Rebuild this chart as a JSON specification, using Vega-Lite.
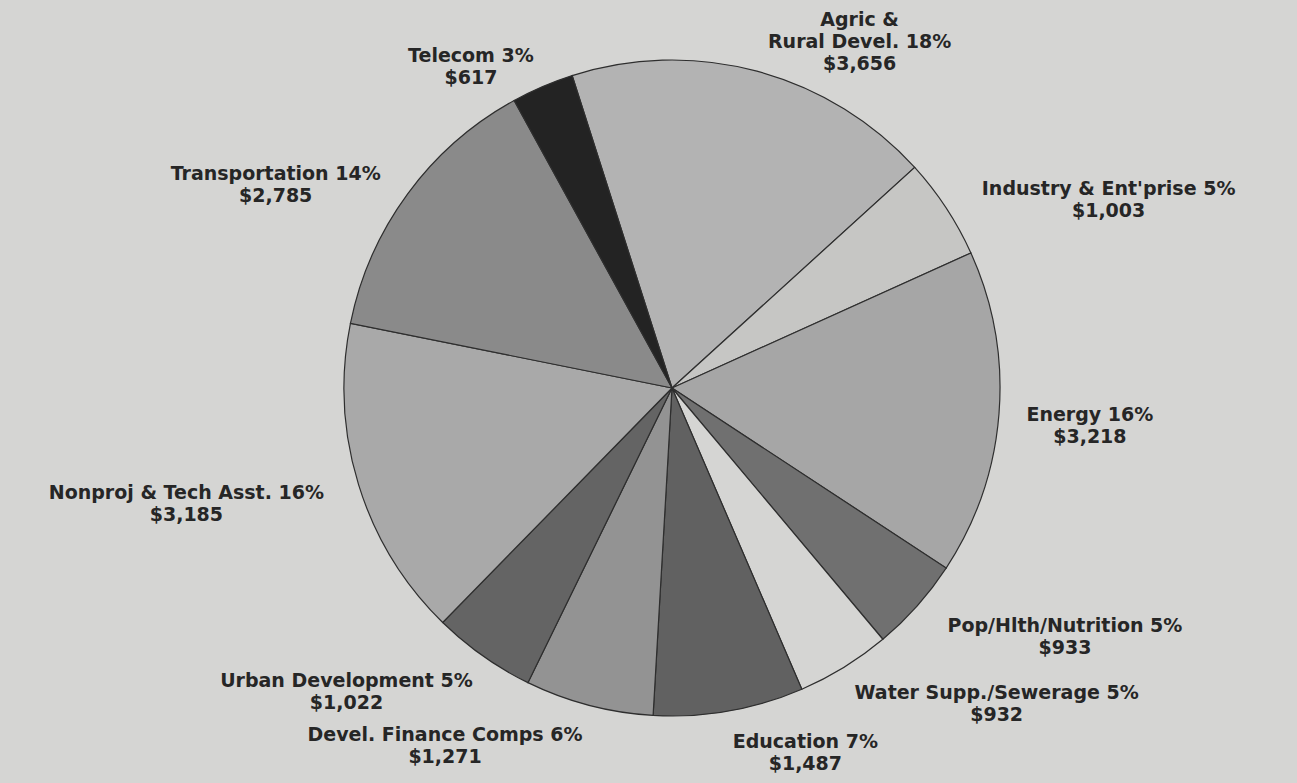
{
  "$schema": "https://vega.github.io/schema/vega-lite/v6.json",
  "width": 1250,
  "height": 776,
  "autosize": "none",
  "padding": {"left": 47, "top": 0, "right": 0, "bottom": 7},
  "background": "#d5d5d3",
  "view": {"stroke": null},
  "data": {
    "values": [
      {"order": 1, "sector": "Agric & Rural Devel.", "value": 3656, "label": ["Agric &", "Rural Devel. 18%", "$3,656"]},
      {"order": 2, "sector": "Industry & Ent'prise", "value": 1003, "label": ["Industry & Ent'prise 5%", "$1,003"]},
      {"order": 3, "sector": "Energy", "value": 3218, "label": ["Energy 16%", "$3,218"]},
      {"order": 4, "sector": "Pop/Hlth/Nutrition", "value": 933, "label": ["Pop/Hlth/Nutrition 5%", "$933"]},
      {"order": 5, "sector": "Water Supp./Sewerage", "value": 932, "label": ["Water Supp./Sewerage 5%", "$932"]},
      {"order": 6, "sector": "Education", "value": 1487, "label": ["Education 7%", "$1,487"]},
      {"order": 7, "sector": "Devel. Finance Comps", "value": 1271, "label": ["Devel. Finance Comps 6%", "$1,271"]},
      {"order": 8, "sector": "Urban Development", "value": 1022, "label": ["Urban Development 5%", "$1,022"]},
      {"order": 9, "sector": "Nonproj & Tech Asst.", "value": 3185, "label": ["Nonproj & Tech Asst. 16%", "$3,185"]},
      {"order": 10, "sector": "Transportation", "value": 2785, "label": ["Transportation 14%", "$2,785"]},
      {"order": 11, "sector": "Telecom", "value": 617, "label": ["Telecom 3%", "$617"]}
    ]
  },
  "encoding": {
    "theta": {"field": "value", "type": "quantitative", "stack": true, "scale": {"range": [-0.3093, 5.9739]}},
    "order": {"field": "order", "type": "quantitative"}
  },
  "layer": [
    {
      "mark": {"type": "arc", "outerRadius": 328, "stroke": "#2e2e2e", "strokeWidth": 1.2},
      "encoding": {
        "color": {
          "field": "sector",
          "type": "nominal",
          "legend": null,
          "scale": {
            "domain": ["Agric & Rural Devel.", "Industry & Ent'prise", "Energy", "Pop/Hlth/Nutrition", "Water Supp./Sewerage", "Education", "Devel. Finance Comps", "Urban Development", "Nonproj & Tech Asst.", "Transportation", "Telecom"],
            "range": ["#b3b3b3", "#c6c6c4", "#a6a6a6", "#707070", "#d5d5d3", "#616161", "#939393", "#646464", "#a9a9a9", "#8a8a8a", "#232323"]
          }
        }
      }
    },
    {
      "mark": {
        "type": "text",
        "radius": 360,
        "font": "DejaVu Sans",
        "fontWeight": "bold",
        "fontSize": 19,
        "lineHeight": 22,
        "color": "#262626",
        "align": "center",
        "baseline": "middle",
        "dy": {"expr": "37 - 19 * length(datum.label)"},
        "dx": {"expr": "(datum.order <= 6 ? 1 : -1) * 5.9 * max(length(datum.label[0]), length(datum.label[1]))"}
      },
      "encoding": {
        "text": {"field": "label", "type": "nominal"}
      }
    }
  ]
}
